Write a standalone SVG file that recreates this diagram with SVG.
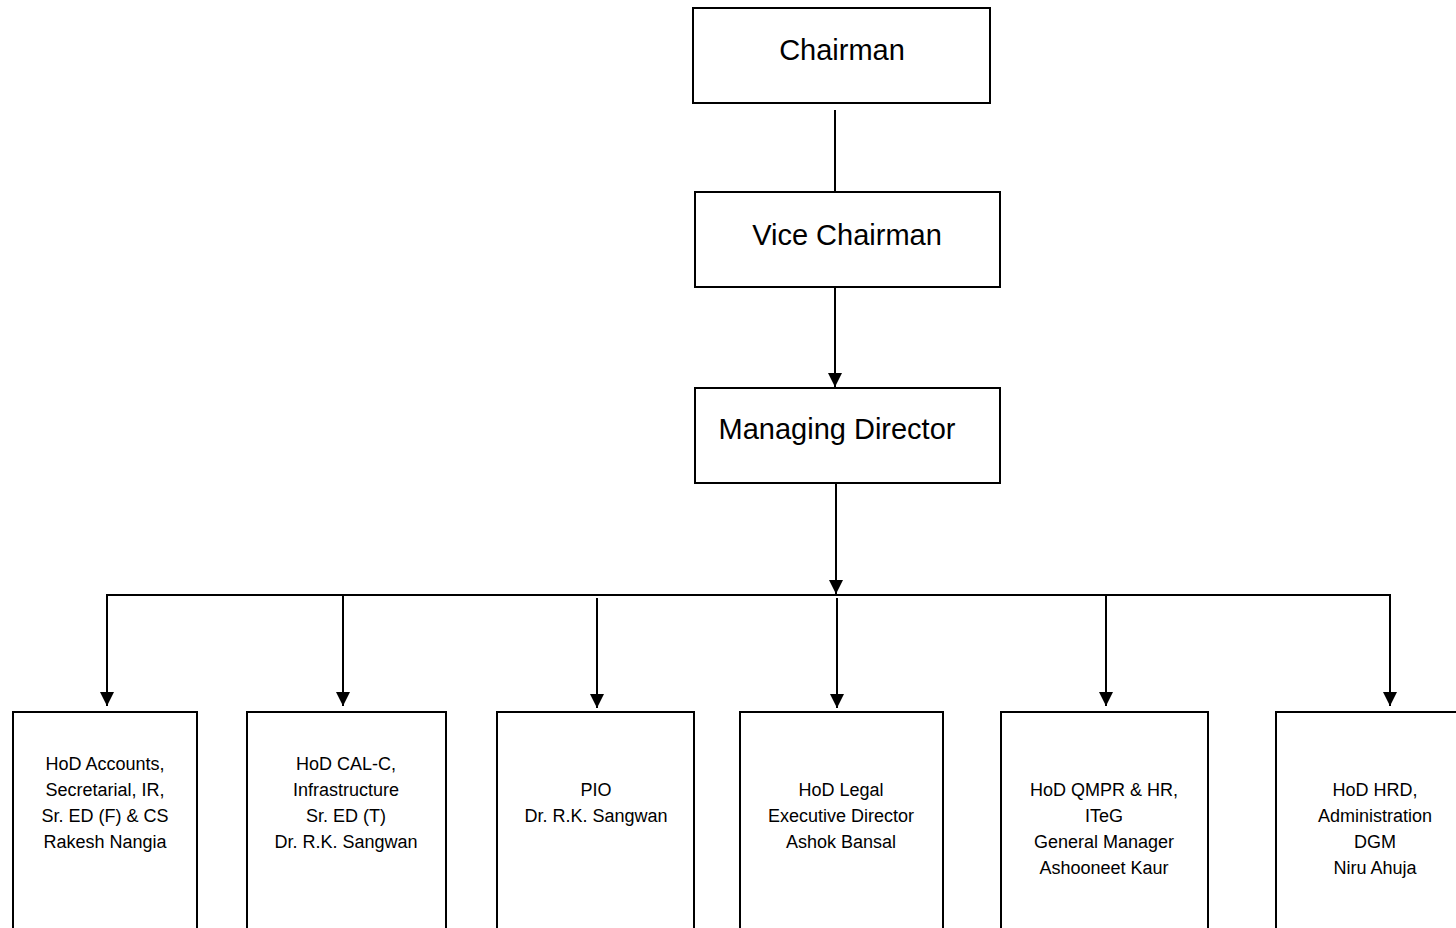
<svg xmlns="http://www.w3.org/2000/svg" width="1456" height="928" viewBox="0 0 1456 928">
<style>
.box{fill:#fff;stroke:#000;stroke-width:2}
.big{font-family:"Liberation Sans",Arial,sans-serif;font-size:29px;fill:#000;text-anchor:middle}
.sm{font-family:"Liberation Sans",Arial,sans-serif;font-size:18px;fill:#000;text-anchor:middle}
.ln{stroke:#000;stroke-width:2;fill:none}
</style>
<defs>
<marker id="ah" viewBox="0 0 14 14" refX="14" refY="7" markerWidth="14" markerHeight="14" markerUnits="userSpaceOnUse" orient="auto">
<path d="M0,0 L14,7 L0,14 z" fill="#000"/>
</marker>
</defs>
<rect width="1456" height="928" fill="#fff"/>
<g id="connectors">
<line class="ln" x1="835" y1="110" x2="835" y2="192"/>
<line class="ln" x1="835" y1="288" x2="835" y2="387" marker-end="url(#ah)"/>
<line class="ln" x1="836" y1="484" x2="836" y2="594" marker-end="url(#ah)"/>
<line class="ln" x1="106" y1="595" x2="1391" y2="595"/>
<line class="ln" x1="107" y1="594" x2="107" y2="706" marker-end="url(#ah)"/>
<line class="ln" x1="343" y1="594" x2="343" y2="706" marker-end="url(#ah)"/>
<line class="ln" x1="597" y1="598" x2="597" y2="708" marker-end="url(#ah)"/>
<line class="ln" x1="837" y1="598" x2="837" y2="708" marker-end="url(#ah)"/>
<line class="ln" x1="1106" y1="594" x2="1106" y2="706" marker-end="url(#ah)"/>
<line class="ln" x1="1390" y1="594" x2="1390" y2="706" marker-end="url(#ah)"/>
</g>
<g id="chairman">
<rect class="box" x="693" y="8" width="297" height="95"/>
<text class="big" x="842" y="60">Chairman</text>
</g>
<g id="vice-chairman">
<rect class="box" x="695" y="192" width="305" height="95"/>
<text class="big" x="847" y="245">Vice Chairman</text>
</g>
<g id="managing-director">
<rect class="box" x="695" y="388" width="305" height="95"/>
<text class="big" x="837" y="439">Managing Director</text>
</g>
<g id="hod-accounts">
<rect class="box" x="13" y="712" width="184" height="300"/>
<text class="sm" x="105"><tspan x="105" y="770">HoD Accounts,</tspan><tspan x="105" y="796">Secretarial, IR,</tspan><tspan x="105" y="822">Sr. ED (F) &amp; CS</tspan><tspan x="105" y="848">Rakesh Nangia</tspan></text>
</g>
<g id="hod-calc">
<rect class="box" x="247" y="712" width="199" height="300"/>
<text class="sm" x="346"><tspan x="346" y="770">HoD CAL-C,</tspan><tspan x="346" y="796">Infrastructure</tspan><tspan x="346" y="822">Sr. ED (T)</tspan><tspan x="346" y="848">Dr. R.K. Sangwan</tspan></text>
</g>
<g id="pio">
<rect class="box" x="497" y="712" width="197" height="300"/>
<text class="sm" x="596"><tspan x="596" y="796">PIO</tspan><tspan x="596" y="822">Dr. R.K. Sangwan</tspan></text>
</g>
<g id="hod-legal">
<rect class="box" x="740" y="712" width="203" height="300"/>
<text class="sm" x="841"><tspan x="841" y="796">HoD Legal</tspan><tspan x="841" y="822">Executive Director</tspan><tspan x="841" y="848">Ashok Bansal</tspan></text>
</g>
<g id="hod-qmpr">
<rect class="box" x="1001" y="712" width="207" height="300"/>
<text class="sm" x="1104"><tspan x="1104" y="796">HoD QMPR &amp; HR,</tspan><tspan x="1104" y="822">ITeG</tspan><tspan x="1104" y="848">General Manager</tspan><tspan x="1104" y="874">Ashooneet Kaur</tspan></text>
</g>
<g id="hod-hrd">
<rect class="box" x="1276" y="712" width="200" height="300"/>
<text class="sm" x="1375"><tspan x="1375" y="796">HoD HRD,</tspan><tspan x="1375" y="822">Administration</tspan><tspan x="1375" y="848">DGM</tspan><tspan x="1375" y="874">Niru Ahuja</tspan></text>
</g>
</svg>
